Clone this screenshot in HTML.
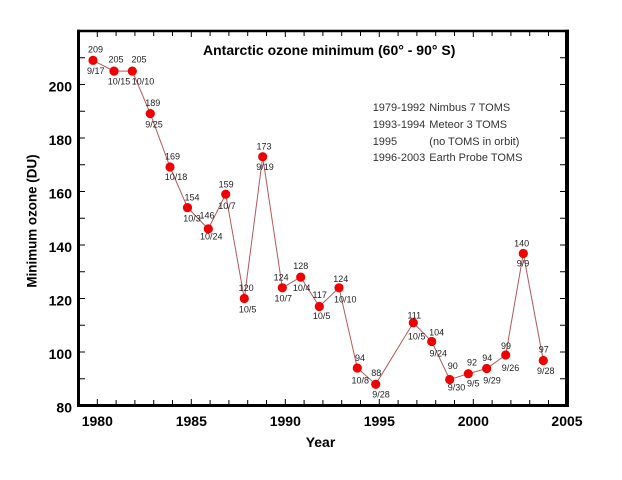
<!DOCTYPE html>
<html><head><meta charset="utf-8"><style>
html,body{margin:0;padding:0;background:#fff;}
svg{display:block;}
text{font-family:"Liberation Sans",Arial,sans-serif;}
</style></head><body>
<svg width="622" height="480" viewBox="0 0 622 480" xmlns="http://www.w3.org/2000/svg">
<rect width="622" height="480" fill="#fff"/>
<!-- ticks -->
<g stroke="#000" stroke-width="1">
<!-- left ticks every 10 DU -->
<path d="M80 378.75h5M80 352h5M80 325.25h5M80 298.5h5M80 271.75h5M80 245h5M80 218.25h5M80 191.5h5M80 164.75h5M80 138h5M80 111.25h5M80 84.5h5M80 57.75h5"/>
<!-- right ticks -->
<path d="M565 378.75h-5M565 352h-5M565 325.25h-5M565 298.5h-5M565 271.75h-5M565 245h-5M565 218.25h-5M565 191.5h-5M565 164.75h-5M565 138h-5M565 111.25h-5M565 84.5h-5M565 57.75h-5"/>
<!-- bottom ticks every year -->
<path d="M97.3 404v-5M116.1 404v-4M134.9 404v-4M153.7 404v-4M172.5 404v-4M191.3 404v-5M210.1 404v-4M228.9 404v-4M247.7 404v-4M266.5 404v-4M285.3 404v-5M304.1 404v-4M322.9 404v-4M341.7 404v-4M360.5 404v-4M379.3 404v-5M398.1 404v-4M416.9 404v-4M435.7 404v-4M454.5 404v-4M473.3 404v-5M492.1 404v-4M510.9 404v-4M529.7 404v-4M548.5 404v-4"/>
<!-- top ticks -->
<path d="M97.3 32v5M116.1 32v4M134.9 32v4M153.7 32v4M172.5 32v4M191.3 32v5M210.1 32v4M228.9 32v4M247.7 32v4M266.5 32v4M285.3 32v5M304.1 32v4M322.9 32v4M341.7 32v4M360.5 32v4M379.3 32v5M398.1 32v4M416.9 32v4M435.7 32v4M454.5 32v4M473.3 32v5M492.1 32v4M510.9 32v4M529.7 32v4M548.5 32v4"/>
</g>
<!-- frame -->
<g stroke="#000" fill="none">
<line x1="77" y1="31" x2="569" y2="31" stroke-width="2.5"/>
<line x1="567" y1="29.8" x2="567" y2="407" stroke-width="4"/>
<line x1="77" y1="405.5" x2="569" y2="405.5" stroke-width="3"/>
<line x1="78.5" y1="29.8" x2="78.5" y2="407" stroke-width="3"/>
</g>
<!-- series line -->
<polyline fill="none" stroke="#b05a5a" stroke-width="1" points="93,60.4 114,71.1 132.3,71.1 150.3,113.6 170,167 187.5,207.6 208.3,228.9 225.7,194.2 244.3,298.5 262.7,156.7 282.3,287.8 300.7,277.1 319.3,306.5 339,287.8 357.3,368 375.7,384.3 413.3,322.8 431.7,341.5 449.7,379.5 468.3,373.7 486.7,368.5 505.7,355 523.3,253.5 543.3,360.5"/>
<!-- markers -->
<g fill="#f00000">
<circle cx="93" cy="60.4" r="4.6"/><circle cx="114" cy="71.1" r="4.6"/><circle cx="132.3" cy="71.1" r="4.6"/>
<circle cx="150.3" cy="113.6" r="4.6"/><circle cx="170" cy="167" r="4.6"/><circle cx="187.5" cy="207.6" r="4.6"/>
<circle cx="208.3" cy="228.9" r="4.6"/><circle cx="225.7" cy="194.2" r="4.6"/><circle cx="244.3" cy="298.5" r="4.6"/>
<circle cx="262.7" cy="156.7" r="4.6"/><circle cx="282.3" cy="287.8" r="4.6"/><circle cx="300.7" cy="277.1" r="4.6"/>
<circle cx="319.3" cy="306.5" r="4.6"/><circle cx="339" cy="287.8" r="4.6"/><circle cx="357.3" cy="368" r="4.6"/>
<circle cx="375.7" cy="384.3" r="4.6"/><circle cx="413.3" cy="322.8" r="4.6"/><circle cx="431.7" cy="341.5" r="4.6"/>
<circle cx="449.7" cy="379.5" r="4.6"/><circle cx="468.3" cy="373.7" r="4.6"/><circle cx="486.7" cy="368.5" r="4.6"/>
<circle cx="505.7" cy="355" r="4.6"/><circle cx="523.3" cy="253.5" r="4.6"/><circle cx="543.3" cy="360.5" r="4.6"/>
</g>
<!-- point labels -->
<g font-size="9" fill="#222" text-anchor="middle">
<text x="95.5" y="52.6">209</text><text x="95.8" y="74">9/17</text>
<text x="116" y="62.6">205</text><text x="119" y="84.3">10/15</text>
<text x="139" y="62.6">205</text><text x="143" y="84.3">10/10</text>
<text x="152.8" y="106">189</text><text x="154" y="127.6">9/25</text>
<text x="172.5" y="159.3">169</text><text x="176" y="180">10/18</text>
<text x="192" y="200.6">154</text><text x="192" y="221.6">10/3</text>
<text x="207" y="218.3">146</text><text x="211.3" y="239.3">10/24</text>
<text x="226.2" y="187.6">159</text><text x="227" y="209">10/7</text>
<text x="246.2" y="291">120</text><text x="247.7" y="312.3">10/5</text>
<text x="264" y="149.3">173</text><text x="265" y="170">9/19</text>
<text x="281.2" y="280.6">124</text><text x="283.3" y="301.6">10/7</text>
<text x="300.8" y="269">128</text><text x="301.7" y="291">10/4</text>
<text x="319.7" y="298">117</text><text x="321.7" y="319">10/5</text>
<text x="340.8" y="282">124</text><text x="345.3" y="302.6">10/10</text>
<text x="360" y="361">94</text><text x="360.3" y="383.3">10/8</text>
<text x="376.3" y="376">88</text><text x="381" y="397.3">9/28</text>
<text x="414.3" y="318.3">111</text><text x="416.7" y="339.3">10/5</text>
<text x="436.7" y="335.6">104</text><text x="438.3" y="356.6">9/24</text>
<text x="452.7" y="369">90</text><text x="456.5" y="390.6">9/30</text>
<text x="472" y="365.6">92</text><text x="473.3" y="386.6">9/5</text>
<text x="487.3" y="361">94</text><text x="492" y="383.3">9/29</text>
<text x="506" y="349">99</text><text x="510.5" y="371">9/26</text>
<text x="521.7" y="246.6">140</text><text x="523" y="266.6">9/9</text>
<text x="543.8" y="352.6">97</text><text x="545.8" y="374">9/28</text>
</g>
<!-- title -->
<text x="203" y="55" font-size="14" font-weight="bold" fill="#000">Antarctic ozone minimum (60° - 90° S)</text>
<!-- legend -->
<g font-size="11" fill="#333">
<text x="372.7" y="111">1979-1992</text><text x="429.3" y="111">Nimbus 7 TOMS</text>
<text x="372.7" y="128">1993-1994</text><text x="429.3" y="128">Meteor 3 TOMS</text>
<text x="372.7" y="145">1995</text><text x="429.3" y="145">(no TOMS in orbit)</text>
<text x="372.7" y="161">1996-2003</text><text x="429.3" y="161">Earth Probe TOMS</text>
</g>
<!-- y tick labels -->
<g font-size="14" font-weight="bold" fill="#000" text-anchor="end">
<text x="72" y="412.5">80</text>
<text x="72" y="359">100</text>
<text x="72" y="305.5">120</text>
<text x="72" y="252">140</text>
<text x="72" y="198.5">160</text>
<text x="72" y="145">180</text>
<text x="72" y="91.5">200</text>
</g>
<!-- x tick labels -->
<g font-size="14" font-weight="bold" fill="#000" text-anchor="middle">
<text x="97.3" y="426">1980</text>
<text x="191.3" y="426">1985</text>
<text x="285.3" y="426">1990</text>
<text x="379.3" y="426">1995</text>
<text x="473.3" y="426">2000</text>
<text x="567" y="426">2005</text>
</g>
<!-- axis titles -->
<text x="320.5" y="447" font-size="14" font-weight="bold" text-anchor="middle" fill="#000">Year</text>
<text transform="translate(36.5,221) rotate(-90)" font-size="13.4" font-weight="bold" text-anchor="middle" fill="#000">Minimum ozone (DU)</text>
</svg>
</body></html>
